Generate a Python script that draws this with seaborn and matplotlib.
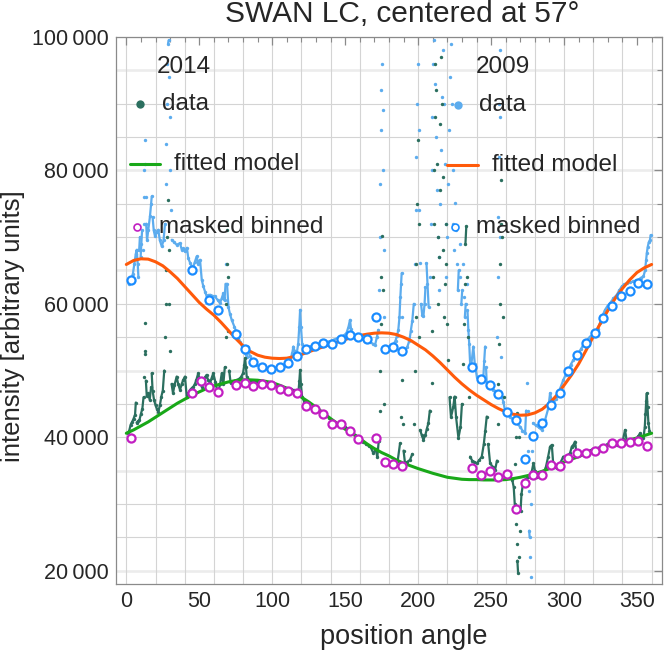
import numpy as np
import pandas as pd
import matplotlib
matplotlib.use("Agg")
import matplotlib.pyplot as plt
import seaborn as sns
from matplotlib.lines import Line2D
from matplotlib.ticker import MultipleLocator, FuncFormatter

# ---- data (position angle [deg], intensity) ----
data_2014 = [
    (1, 40600), (2, 41000), (3, 41900), (4, 42300), (5, 42800), (6, 43400), (6.5, 45200), (7, 42200),
    (8, 42400), (9, 42600), (10, 43500), (11, 44300), (11.8, 46000), (12.2, 49000), (12.5, 52500),
    (12.8, 57100), (13.1, 53000), (13.4, 48500), (14, 46200), (15, 46600), (16, 45600), (17, 47500),
    (17.4, 49600), (18, 47000), (19, 45600), (20, 44800), (21, 44200), (22, 43850), (23, 44800),
    (24, 46100), (25, 47000), (26, 50000), (26.5, 55000), (27, 60000), (27.5, 65000), (28, 70000),
    (28.5, 75600), (29, 68000), (29.5, 60000), (30, 53000), (31, 48000), (32, 46600), (33, 47800),
    (34.5, 49100), (35.5, 48000), (36.8, 47100), (38, 48000), (39, 48600), (40.2, 49100), (41.4, 46100),
    (42.5, 46600), (43.7, 47100), (45, 47400), (46, 47600), (47, 48000), (48, 48600), (49.3, 49600),
    (50.5, 48300), (51.7, 47600), (53, 48300), (54, 49000), (55, 49350), (56, 48600), (57.4, 48100),
    (58.5, 48900), (59.6, 49600), (61, 48300), (62, 47300), (63.1, 46850), (64.3, 48000), (65.4, 49600),
    (66.5, 48000), (67.5, 50500), (68, 55000), (68.4, 60000), (68.8, 66000), (69.2, 71000), (69.6, 64000),
    (70, 56000), (70.5, 50000), (71.5, 48100), (73, 48300), (74.5, 48500), (75.7, 48600), (77, 48700),
    (78.5, 49000), (80, 49600), (80.8, 50800), (81.4, 51850), (82, 50500), (82.5, 49100), (84, 48600),
    (85.5, 48450), (87, 48350), (89, 48300), (91, 48250), (93, 48200), (95, 48100), (97, 48000),
    (99, 47950), (101, 47850), (103, 47700), (105, 47600), (107, 47500), (109, 47400), (111, 47300),
    (113, 47200), (115, 47050), (116.5, 46800), (117.9, 46600), (118.6, 48500), (119.1, 50100),
    (119.6, 48000), (120.5, 46000), (122, 45300), (123.6, 44850), (125.5, 44500), (127.5, 44300),
    (129.3, 44100), (131, 43900), (133, 43750), (135, 43600), (137, 43200), (139, 42900), (141, 42500),
    (143, 42200), (145, 42000), (147.6, 41850), (150, 41500), (152, 41300), (153.3, 41100), (155, 40800),
    (157, 40300), (158.5, 40000), (160, 39600), (162, 39300), (164, 39000), (166, 38700), (167.5, 38500),
    (169.3, 37600), (171, 38200), (172, 37000), (173, 39500), (173.6, 44000), (174, 50000), (174.4, 57000),
    (174.8, 64000), (175.2, 70100), (175.6, 62000), (176, 53000), (176.4, 45000), (177.3, 36600),
    (179, 36300), (180.7, 36100), (182.5, 36200), (184.2, 36100), (186, 36500), (187.6, 39100),
    (188.2, 43000), (188.8, 48600), (189.4, 42000), (190, 38000), (191, 36100), (192.5, 36300),
    (194.4, 36600), (196, 37500), (197, 42000), (197.8, 50000), (198.3, 58000), (198.8, 66000),
    (199.3, 75000), (199.8, 84600), (200.3, 72000), (200.8, 55000), (201.3, 41100), (202.5, 40300),
    (203.6, 39600), (205, 40400), (206, 41300), (207, 42100), (208, 44000), (209.3, 48100), (209.8, 56000),
    (210.2, 64000), (210.6, 72000), (211, 80000), (211.4, 88000), (211.8, 96000), (212.3, 92000),
    (212.8, 81000), (213.3, 70000), (213.8, 60000), (214.3, 67000), (214.8, 77000), (215.3, 87000),
    (215.8, 97000), (216.3, 90000), (216.8, 79000), (217.3, 68000), (217.8, 58000), (218.3, 63000),
    (218.8, 72000), (219.3, 66000), (219.8, 57000), (220.7, 51600), (221.5, 46000), (222.5, 43000),
    (224, 44500), (225, 46100), (226, 43000), (227.6, 39900), (229, 41500), (230, 45000), (230.6, 51000),
    (231.2, 57000), (231.8, 63000), (232.4, 69000), (233, 71600), (233.5, 64000), (234, 55000),
    (234.6, 46000), (235.6, 37100), (237, 36500), (238.5, 36300), (240.2, 36100), (242, 36600),
    (243.6, 37100), (245, 39000), (246, 41000), (247, 43100), (248, 39000), (249.3, 36100), (251, 35600),
    (252.7, 35100), (254, 36500), (254.6, 42000), (255, 48000), (255.4, 54000), (255.8, 60000),
    (256.2, 66000), (256.6, 72000), (257, 78600), (257.5, 70000), (258, 58000), (258.5, 46000),
    (259.2, 34600), (261, 34300), (263, 34100), (264.5, 33600), (265.5, 32500), (266.2, 30000),
    (266.5, 36000), (266.8, 27000), (267.2, 40000), (267.4, 24000), (267.9, 43600), (268, 21500),
    (268.5, 19600), (268.8, 40000), (269, 22000), (269.6, 26000), (270.2, 29000), (270.8, 31500),
    (272.1, 33350), (274, 33800), (275.5, 34000), (276.7, 34100), (278, 35000), (279, 36100), (280, 35000),
    (281.3, 34100), (283.5, 34300), (285.8, 34600), (287.5, 35500), (289, 37000), (290.4, 38600),
    (291.6, 38850), (292.7, 35600), (294, 35500), (295, 35350), (297.3, 36100), (299.5, 37100),
    (300.7, 37100), (302.5, 37300), (304.1, 37600), (305.3, 38600), (306.5, 38900), (307.5, 39350),
    (308.7, 37350), (310.5, 37500), (312, 37700), (313.5, 37800), (315.6, 37850), (317.5, 38000),
    (319.5, 38200), (321.2, 38350), (323, 38400), (325, 38500), (326.9, 38600), (328.5, 38800),
    (330.5, 39100), (332.7, 39350), (334.5, 39000), (336.5, 38900), (338, 38850), (339.5, 38850),
    (340.5, 39800), (341.8, 41100), (342.8, 39600), (344.5, 39200), (346.4, 39350), (348, 39500),
    (350, 39800), (351, 40200), (352.1, 40600), (353, 40000), (354.4, 39850), (355.3, 41500),
    (355.8, 43500), (356.3, 45500), (356.7, 46600), (357.2, 44500), (357.8, 42100), (358.5, 41000),
]

data_2009 = [
    (1.5, 63000), (2.5, 63300), (3.5, 63600), (4.5, 64500), (5.5, 66000), (6.5, 67500), (7.1, 68100),
    (7.8, 66000), (8.3, 64000), (8.8, 68000), (9.3, 70000), (9.8, 67000), (10.3, 69000), (10.8, 71000),
    (11.3, 68000), (11.8, 72000), (12.1, 76000), (12.4, 80000), (12.7, 84600), (13, 81000), (13.3, 76000),
    (13.6, 72000), (14.2, 69500), (15, 71000), (16.2, 73100), (17, 75000), (17.4, 76100), (18, 73000),
    (18.8, 71000), (19.7, 70100), (20.8, 70800), (21.9, 71100), (23, 69500), (24.3, 68600), (25.5, 69500),
    (26.5, 72000), (27, 78000), (27.4, 84000), (27.8, 90000), (28.2, 96000), (28.6, 99000), (29, 99500),
    (29.4, 94000), (29.8, 88000), (30.2, 80000), (30.6, 74000), (31.1, 69600), (32.5, 69300),
    (34.5, 68850), (36.8, 69100), (38, 68100), (39, 68300), (40.2, 67850), (41.5, 68400), (42.5, 66800),
    (43.7, 66150), (45, 65500), (45.9, 65600), (47, 66300), (48.2, 67100), (49.3, 66000), (50.5, 66600),
    (51.7, 63600), (52.8, 62600), (54, 61800), (55.1, 61100), (56.2, 61300), (57.4, 61350), (59, 61200),
    (60.8, 61100), (62.5, 60600), (64.2, 60100), (65.5, 60900), (66.5, 61600), (67.3, 60500), (68, 63000),
    (68.5, 66000), (69, 63000), (70, 59500), (71, 58500), (72.2, 57600), (74, 56600), (75.7, 55600),
    (78, 54300), (80.2, 53100), (81.5, 52600), (82.5, 52100), (83.6, 53600), (84.5, 52200), (86, 51600),
    (87, 51350), (89, 50900), (91.6, 50600), (94, 50400), (96.2, 50200), (98.5, 50250), (100.8, 50350),
    (103, 50450), (106.5, 50600), (109, 50850), (111, 51100), (112.5, 51700), (113.7, 52600),
    (114.5, 53600), (115.3, 52900), (116.8, 52600), (117.8, 54000), (118.5, 56500), (119.1, 59100),
    (119.7, 56500), (120.5, 54000), (122.5, 53350), (124.5, 53500), (127, 53700), (129.3, 53850),
    (132, 54000), (135, 54100), (138, 54300), (141.9, 54600), (145, 54900), (147.6, 55100), (149.5, 55300),
    (151, 55700), (152.3, 56600), (153.3, 57600), (154, 56200), (155, 55200), (157, 54900), (159, 54850),
    (162, 54700), (164.8, 54600), (167, 54300), (169, 54000), (170.5, 53850), (171.7, 55000),
    (172.7, 56100), (173.2, 62000), (173.6, 70000), (174, 78000), (174.4, 86000), (174.8, 92000),
    (175.2, 96000), (175.6, 89000), (176, 80000), (176.4, 68000), (176.8, 58000), (177.3, 53600),
    (179, 53400), (181, 53700), (183, 53850), (184.5, 54500), (185.5, 55200), (186.4, 56100),
    (187.2, 58000), (187.8, 61000), (188.3, 63000), (188.7, 64600), (189.2, 58000), (189.9, 53100),
    (191, 53000), (192.5, 53500), (194, 54500), (195, 56000), (196, 57500), (197, 60000), (197.8, 66000),
    (198.3, 74000), (198.8, 82000), (199.3, 90000), (199.8, 96000), (200.3, 86000), (200.8, 74000),
    (201.3, 66150), (202, 60000), (202.8, 58300), (203.6, 58100), (204.4, 60000), (205, 62500),
    (205.7, 66100), (206.4, 63000), (207.2, 59500), (208, 64000), (208.6, 72000), (209.2, 80000),
    (209.8, 88000), (210.4, 96000), (211, 99500), (211.6, 93000), (212.2, 85000), (212.8, 77000),
    (213.4, 70000), (214, 62000), (214.6, 67000), (215.2, 75000), (215.8, 83000), (216.4, 91000),
    (217, 98000), (217.6, 90000), (218.2, 81000), (218.8, 72000), (219.4, 64000), (220, 70000),
    (220.6, 78000), (221.2, 86000), (221.8, 94000), (222.4, 99000), (223, 90000), (223.6, 80000),
    (224.2, 72000), (224.8, 68000), (225.4, 75100), (226, 71000), (226.6, 66000), (227.2, 62000),
    (227.8, 65000), (228.4, 69000), (229, 64000), (229.6, 60000), (230.2, 62000), (230.8, 66000),
    (231.4, 61000), (232, 58000), (232.6, 60000), (233.2, 63000), (233.8, 59000), (234.4, 56100),
    (235, 54000), (235.6, 51100), (236.5, 51000), (237.8, 53600), (238.8, 51000), (240.2, 49100),
    (242, 49000), (243.5, 49200), (244.7, 49100), (245.3, 51500), (245.9, 53600), (246.5, 50500),
    (247, 48100), (249.3, 47600), (251.5, 47100), (253.9, 46850), (254.3, 55000), (254.6, 64000),
    (254.9, 73000), (255.2, 82000), (255.5, 90000), (255.8, 98000), (256.1, 88000), (256.4, 70000),
    (256.7, 52000), (257.3, 46100), (258.4, 45350), (259.6, 43850), (261.5, 43400), (263, 43100),
    (265.3, 42600), (267.5, 42100), (269.8, 41600), (271.5, 41000), (273.3, 40600), (274, 44000),
    (274.5, 48150), (275, 44000), (275.5, 38000), (275.8, 32000), (276.1, 26000), (276.4, 25000),
    (276.7, 22000), (277, 19000), (277.5, 30000), (278, 38000), (278.8, 42150), (280.5, 41800),
    (282.5, 41500), (284.7, 41100), (287, 42600), (289.2, 44350), (290.4, 46600), (291.5, 45500),
    (292.7, 45100), (294.5, 45800), (296.1, 46600), (297.8, 47600), (299.5, 48600), (301.2, 49400),
    (302.9, 50100), (304.6, 50900), (306.4, 51600), (308, 52100), (309.8, 52600), (311.5, 53200),
    (313.2, 53850), (315.5, 54500), (317.8, 55100), (319.5, 55300), (321.2, 55600), (323, 56300),
    (324.6, 57100), (326.3, 58200), (328.1, 59100), (329.8, 59700), (331.5, 60100), (333.8, 60800),
    (336.1, 61350), (337.8, 62000), (339.5, 62600), (341.2, 62900), (343, 63100), (345.2, 63200),
    (347.5, 63350), (349.2, 63500), (350.9, 63600), (352.6, 63900), (354.4, 64100), (355.5, 65000),
    (356.2, 66500), (356.7, 67600), (357.3, 68500), (358, 69200), (358.9, 69600), (359.3, 70300),
]

# fitted models, read every 5 degrees
fit_angles = list(range(0, 361, 5))
fit_2014 = [40600, 41100, 41700, 42300, 43000, 43700, 44400, 45100, 45700, 46300, 46800, 47300, 47700,
            48000, 48300, 48500, 48600, 48600, 48550, 48400, 48200, 47800, 47350, 46750, 46000, 45300,
            44500, 43650, 42800, 42000, 41200, 40500, 39800, 39000, 38300, 37700, 37200, 36600, 36100,
            35700, 35300, 34950, 34600, 34300, 34000, 33850, 33700, 33650, 33650, 33600, 33600, 33600,
            33650, 33800, 34000, 34250, 34550, 34900, 35300, 35800, 36300, 36700, 37100, 37550, 38000,
            38400, 38800, 39050, 39300, 39600, 39900, 40250, 40600]
fit_2009 = [65900, 66500, 66750, 66700, 66300, 65700, 64800, 63800, 62600, 61400, 60200, 59200, 58300,
            57200, 56000, 54800, 53700, 52850, 52300, 52000, 51850, 51800, 51850, 52100, 52400, 52800,
            53200, 53550, 53950, 54300, 54650, 55000, 55250, 55450, 55600, 55650, 55600, 55400, 55000,
            54500, 53800, 53100, 52200, 51200, 50100, 49000, 48000, 47100, 46300, 45600, 44900, 44300,
            43800, 43450, 43300, 43350, 43650, 44200, 45100, 46300, 47800, 49300, 51000, 53000, 55100,
            57100, 59000, 60800, 62300, 63600, 64700, 65400, 65900]

# masked binned values (6 degree bins)
bins_2014 = [3, 45, 51, 57, 63, 75, 81, 87, 93, 99, 105, 111, 117, 123, 129, 135, 141, 147, 153, 159,
             171, 177, 183, 189, 237, 243, 249, 255, 261, 267, 273, 279, 285, 291, 297, 303, 309, 315,
             321, 327, 333, 339, 345, 351, 357]
binned_2014 = [39860, 46600, 48450, 47600, 46850, 47900, 48100, 47750, 48000, 47900, 47300, 46900, 46700,
               44750, 44300, 43550, 42050, 42000, 40950, 39800, 39950, 36250, 36050, 35650, 35350, 34400,
               35000, 34050, 34450, 29300, 33150, 34300, 34400, 35800, 35700, 36900, 37700, 37600, 38000,
               38350, 39150, 39200, 39300, 39450, 38700]
bins_2009 = [3, 45, 57, 63, 75, 81, 87, 93, 99, 105, 111, 117, 123, 129, 135, 141, 147, 153, 159, 165,
             171, 177, 183, 189, 237, 243, 249, 255, 261, 267, 273, 279, 285, 291, 297, 303, 309, 315,
             321, 327, 333, 339, 345, 351, 357]
binned_2009 = [63600, 65000, 60600, 59100, 55550, 53200, 51350, 50600, 50250, 50600, 51200, 52250, 53250,
               53750, 54100, 54000, 54700, 55400, 55000, 54750, 58000, 53300, 53500, 52900, 50500, 48700,
               47800, 46450, 43750, 42550, 36700, 40200, 42150, 44850, 46700, 50000, 52300, 54200, 55600,
               57900, 59600, 61100, 61950, 63100, 62950]

c_dark = "#2b6f5f"
c_light = "#5cacee"
c_green = "#19a819"
c_orange = "#ff5a0a"
c_magenta = "#c21fc2"
c_blue = "#1a8cff"

sns.set_theme(style="white")
plt.rcParams["font.family"] = ["Liberation Sans", "DejaVu Sans"]

fig = plt.figure(figsize=(6.64, 6.51), dpi=100)
ax = fig.add_axes([0.1742, 0.1029, 0.8232, 0.8403])

d14 = pd.DataFrame(data_2014, columns=["angle", "intensity"])
d09 = pd.DataFrame(data_2009, columns=["angle", "intensity"])
# dense stretches look like a line, steep jumps stay as loose dots
for d in (d14, d09):
    dy = d["intensity"].diff().abs()
    slope = dy / d["angle"].diff()
    d["seg"] = ((dy > 3500) | (slope > 5000)).cumsum()
fits = pd.DataFrame({"angle": fit_angles, "f2014": fit_2014, "f2009": fit_2009})
b14 = pd.DataFrame({"angle": bins_2014, "intensity": binned_2014})
b09 = pd.DataFrame({"angle": bins_2009, "intensity": binned_2009})

# gridlines (Mathematica-like)
ax.set_axisbelow(True)
for v in np.arange(20000, 100001, 5000):
    ax.axhline(v, color="#d4d4d4", lw=0.8, zorder=0)
for v in np.arange(20000, 100001, 15000):
    ax.axhline(v, color="#ececec", lw=1.8, zorder=0)
for v in np.arange(0, 361, 20):
    ax.axvline(v, color="#d4d4d4", lw=0.8, zorder=0)

sns.lineplot(data=d09, x="angle", y="intensity", units="seg", estimator=None, color=c_light, lw=1.6,
             ax=ax, zorder=2)
sns.scatterplot(data=d09, x="angle", y="intensity", color=c_light, s=6, linewidth=0, ax=ax, zorder=2)
sns.lineplot(data=d14, x="angle", y="intensity", units="seg", estimator=None, color=c_dark, lw=1.6,
             ax=ax, zorder=3)
sns.scatterplot(data=d14, x="angle", y="intensity", color=c_dark, s=6, linewidth=0, ax=ax, zorder=3)
sns.lineplot(data=fits, x="angle", y="f2009", color=c_orange, lw=2.2, estimator=None, ax=ax, zorder=4)
sns.lineplot(data=fits, x="angle", y="f2014", color=c_green, lw=2.2, estimator=None, ax=ax, zorder=4)
sns.scatterplot(data=b09, x="angle", y="intensity", s=34, facecolor="white", edgecolor=c_blue,
                linewidth=1.6, ax=ax, zorder=5)
sns.scatterplot(data=b14, x="angle", y="intensity", s=34, facecolor="white", edgecolor=c_magenta,
                linewidth=1.6, ax=ax, zorder=5)

ax.set_xlim(-7.3, 367.3)
ax.set_ylim(18000, 100000)
ax.set_xlabel("")
ax.set_ylabel("")

ax.xaxis.set_major_locator(MultipleLocator(50))
ax.xaxis.set_minor_locator(MultipleLocator(10))
ax.yaxis.set_major_locator(MultipleLocator(20000))
ax.yaxis.set_minor_locator(MultipleLocator(5000))
ax.yaxis.set_major_formatter(FuncFormatter(lambda v, p: f"{int(v):,}".replace(",", "\u2009")))
ax.tick_params(which="both", direction="in", top=True, right=True, color="#8a8a8a", labelsize=15.5)
ax.tick_params(which="major", length=6, width=0.9, pad=5)
ax.tick_params(which="minor", length=3.5, width=0.8)
for s in ax.spines.values():
    s.set_color("#8a8a8a")
    s.set_linewidth(0.9)

# title and axis labels
fig.text(0.605, 0.979, "SWAN LC, centered at 57°", ha="center", va="center", fontsize=21.5)
fig.text(0.608, 0.021, "position angle", ha="center", va="center", fontsize=19.5)
fig.text(0.019, 0.499, "intensity [arbitrary units]", ha="center", va="center", rotation=90, fontsize=18.5)

# hand-placed legend blocks
tk = dict(transform=ax.transAxes, fontsize=17.5, va="center", ha="left")
ax.text(0.0757, 0.9457, "2014", **tk)
ax.text(0.0842, 0.8775, "data", **tk)
ax.text(0.1067, 0.767, "fitted model", **tk)
ax.text(0.0798, 0.6532, "masked binned", **tk)
ax.text(0.6592, 0.9457, "2009", **tk)
ax.text(0.6647, 0.8757, "data", **tk)
ax.text(0.6890, 0.766, "fitted model", **tk)
ax.text(0.6592, 0.6532, "masked binned", **tk)

ax.add_line(Line2D([0.0445], [0.8775], transform=ax.transAxes, marker="o", ms=6, color=c_dark, mec="none"))
ax.add_line(Line2D([0.0262, 0.0810], [0.767, 0.767], transform=ax.transAxes, color=c_green, lw=2.2))
ax.add_line(Line2D([0.0384], [0.6532], transform=ax.transAxes, marker="o", ms=5, mfc="white",
                   mec=c_magenta, mew=1.2))
ax.add_line(Line2D([0.6257], [0.8757], transform=ax.transAxes, marker="o", ms=6, color=c_light, mec="none"))
ax.add_line(Line2D([0.6056, 0.6634], [0.766, 0.766], transform=ax.transAxes, color=c_orange, lw=2.2))
ax.add_line(Line2D([0.6207], [0.6532], transform=ax.transAxes, marker="o", ms=5, mfc="white",
                   mec=c_blue, mew=1.2))

fig.savefig("out.png", dpi=100)
